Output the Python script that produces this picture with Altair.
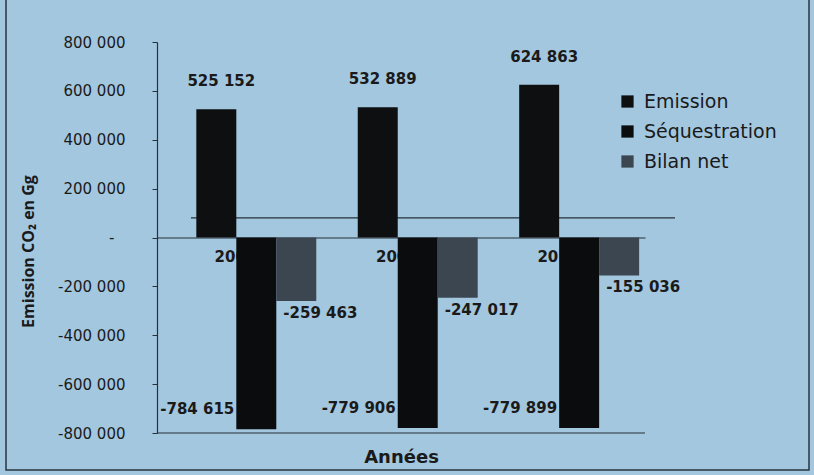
import altair as alt
import pandas as pd

years = ["2000", "2005", "2010"]
series = ["Emission", "Séquestration", "Bilan net"]
emission = [525152, 532889, 624863]
sequestration = [-784615, -779906, -779899]
bilan_net = [-259463, -247017, -155036]
y_ticks = [-800000, -600000, -400000, -200000, 0, 200000, 400000, 600000, 800000]
colors = ["#0e0f11", "#0b0c0e", "#3b4650"]
floor_line = [80000]
bottom_line = [-800000]

rows = []
for i, yr in enumerate(years):
    for s, vals in zip(series, [emission, sequestration, bilan_net]):
        rows.append({"annee": yr, "serie": s, "valeur": vals[i]})
df = pd.DataFrame(rows)

TXT = "#1a1a1a"
LINE = "#26313a"
FMT = ("(datum.valeur < 0 ? '-' : '') + "
       "replace(format(abs(datum.valeur), ',d'), regexp(',', 'g'), ' ')")
YFMT = ("datum.value == 0 ? '-\u2800' : (datum.value < 0 ? '-' : '') + "
        "replace(format(abs(datum.value), ',d'), regexp(',', 'g'), ' ')")

x_enc = alt.X(
    "annee:N", sort=years,
    scale=alt.Scale(paddingInner=0.257, paddingOuter=0.14, align=0.87),
    axis=alt.Axis(
        title="Années", orient="bottom", offset=-195.5, labelAngle=0,
        labelFont="DejaVu Sans", labelFontWeight="bold", labelFontSize=15,
        labelColor=TXT, labelPadding=12, labelAlign="right", tickSize=0,
        domainColor=LINE, domainWidth=1.2,
        titleFont="DejaVu Sans", titleFontSize=18, titleFontWeight="bold",
        titleColor=TXT, titleY=220, titleBaseline="middle", zindex=0,
    ),
)
xo_enc = alt.XOffset("serie:N", sort=series,
                     scale=alt.Scale(domain=series, paddingInner=0, paddingOuter=0))
y_enc = alt.Y(
    "valeur:Q",
    scale=alt.Scale(domain=[-800000, 800000], nice=False, zero=True),
    axis=alt.Axis(
        values=y_ticks, labelExpr=YFMT, grid=False,
        labelFont="DejaVu Sans", labelFontSize=15, labelColor=TXT,
        labelPadding=27, tickSize=5, tickColor=LINE, domainColor=LINE,
        domainWidth=1.2,
        title="Emission CO₂ en Gg", titleFont="Open Sans", titleFontSize=16,
        titleFontWeight="bold", titleColor=TXT, titleX=-129, titleY=209,
        titleAngle=270, titleAlign="center", titleBaseline="middle", zindex=0,
    ),
)

base = alt.Chart(df).transform_calculate(label=FMT)

txt_kw = dict(font="DejaVu Sans", fontWeight="bold", fontSize=15, color=TXT,
              baseline="middle")
lab_em = base.transform_filter(alt.datum.serie == "Emission").mark_text(
    align="center", dx=5, dy=-28, **txt_kw
).encode(x=x_enc, xOffset=xo_enc, y=y_enc, text="label:N")
lab_seq = base.transform_filter(alt.datum.serie == "Séquestration").mark_text(
    align="right", dx=-22, dy=-20, **txt_kw
).encode(x=x_enc, xOffset=xo_enc, y=y_enc, text="label:N")
lab_bil = base.transform_filter(alt.datum.serie == "Bilan net").mark_text(
    align="left", dx=-13, dy=12, **txt_kw
).encode(x=x_enc, xOffset=xo_enc, y=y_enc, text="label:N")

bars = base.mark_bar().encode(
    x=x_enc, xOffset=xo_enc, y=y_enc,
    color=alt.Color(
        "serie:N", sort=series,
        scale=alt.Scale(domain=series, range=colors),
        legend=alt.Legend(
            title=None, orient="none", legendX=461, legendY=50,
            symbolType="square", symbolSize=150, symbolStrokeWidth=0,
            labelFont="DejaVu Sans", labelFontSize=19, labelColor=TXT,
            labelOffset=7, rowPadding=10, padding=0,
        ),
    ),
)

floor = alt.Chart(pd.DataFrame({"valeur": floor_line})).mark_rule(
    color=LINE, strokeWidth=1.2
).encode(y=alt.Y("valeur:Q"), x=alt.value(34), x2=alt.value(518))

bottom = alt.Chart(pd.DataFrame({"valeur": bottom_line})).mark_rule(
    color=LINE, strokeWidth=1.2
).encode(y=alt.Y("valeur:Q"))

border = alt.Chart(pd.DataFrame({"a": [0]})).mark_rect(
    fillOpacity=0, stroke="#2a3540", strokeWidth=1.5
).encode(x=alt.value(-151), x2=alt.value(652), y=alt.value(-50), y2=alt.value(428))

chart = alt.layer(floor, bottom, lab_em, lab_seq, lab_bil, bars, border).properties(
    width=488, height=391,
    autosize=alt.AutoSizeParams(type="none"),
    padding={"left": 157, "top": 42, "right": 169, "bottom": 42},
    background="#a3c7de",
).configure_view(strokeWidth=0)

chart.save("out.html", embed_options={"renderer": "svg", "actions": False})
